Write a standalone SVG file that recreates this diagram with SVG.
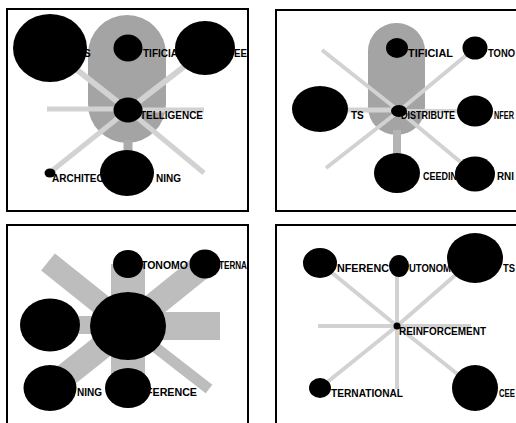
<svg xmlns="http://www.w3.org/2000/svg" width="516" height="423" viewBox="0 0 516 423">
<style>
.n{fill:#000}
.t{font-family:"Liberation Sans",Arial,sans-serif;font-weight:bold;font-size:10px;fill:#000}
.frame{fill:none;stroke:#000;stroke-width:2}
.thin{stroke:#d2d2d2;fill:none}
.band{stroke:#bdbdbd;fill:none}
.pill{fill:#a4a4a4}
</style>
<defs>
<clipPath id="c1"><rect x="8" y="10" width="239" height="200"/></clipPath>
<clipPath id="c2"><rect x="277" y="11" width="239" height="199"/></clipPath>
<clipPath id="c3"><rect x="8" y="226" width="239" height="197"/></clipPath>
<clipPath id="c4"><rect x="277" y="226" width="239" height="197"/></clipPath>
</defs>
<rect width="516" height="423" fill="#fff"/>

<g id="connectors">
  <g clip-path="url(#c1)">
    <rect class="pill" x="88" y="15" width="78" height="128" rx="39" ry="39"/>
    <line class="thin" x1="128" y1="110" x2="62" y2="58" stroke-width="6"/>
    <line class="thin" x1="128" y1="110" x2="190" y2="62" stroke-width="6"/>
    <line class="thin" x1="128" y1="109" x2="47" y2="109" stroke-width="5"/>
    <line class="thin" x1="128" y1="110" x2="204" y2="110" stroke-width="5"/>
    <line class="thin" x1="128" y1="110" x2="53" y2="170" stroke-width="5"/>
    <line class="thin" x1="128" y1="110" x2="204" y2="173" stroke-width="5"/>
    <line stroke="#ababab" x1="128" y1="140" x2="128" y2="152" stroke-width="9"/>
  </g>
  <g clip-path="url(#c2)">
    <rect class="pill" x="368" y="23" width="57" height="112" rx="28" ry="28" fill="#ababab"/>
    <line class="thin" x1="399" y1="111" x2="322" y2="50" stroke-width="4"/>
    <line class="thin" x1="399" y1="111" x2="475" y2="48" stroke-width="4"/>
    <line class="thin" x1="399" y1="110" x2="320" y2="110" stroke-width="5"/>
    <line class="thin" x1="399" y1="111" x2="475" y2="111" stroke-width="4"/>
    <line class="thin" x1="399" y1="111" x2="326" y2="168" stroke-width="4"/>
    <line stroke="#b4b4b4" x1="397" y1="130" x2="397" y2="155" stroke-width="8"/>
    <line class="thin" x1="399" y1="111" x2="475" y2="174" stroke-width="4"/>
  </g>
  <g clip-path="url(#c3)">
    <line class="band" x1="128" y1="326" x2="48" y2="262" stroke-width="22" stroke="#c8c8c8"/>
    <line class="band" x1="128" y1="326" x2="128" y2="264" stroke-width="34" stroke="#acacac"/>
    <line class="band" x1="128" y1="326" x2="205" y2="264" stroke-width="25"/>
    <line class="band" x1="128" y1="326" x2="220" y2="326" stroke-width="28" stroke="#b0b0b0"/>
    <line class="band" x1="128" y1="326" x2="209" y2="389" stroke-width="11" stroke="#cccccc"/>
    <line class="band" x1="128" y1="326" x2="128" y2="388" stroke-width="34"/>
    <line class="band" x1="128" y1="326" x2="50" y2="388" stroke-width="25"/>
    <line class="band" x1="128" y1="325" x2="50" y2="325" stroke-width="18" stroke="#b0b0b0"/>
  </g>
  <g clip-path="url(#c4)">
    <line class="thin" x1="397" y1="326" x2="320" y2="263" stroke-width="4"/>
    <line class="thin" x1="397" y1="266" x2="397" y2="389" stroke-width="4"/>
    <line class="thin" x1="397" y1="326" x2="475" y2="258" stroke-width="4"/>
    <line class="thin" x1="318" y1="326" x2="471" y2="326" stroke-width="4"/>
    <line class="thin" x1="397" y1="326" x2="320" y2="388" stroke-width="4"/>
    <line class="thin" x1="397" y1="326" x2="475" y2="388" stroke-width="4"/>
  </g>
</g>

<g clip-path="url(#c1)">
  <g id="p1-agents"><ellipse class="n" cx="50" cy="48" rx="37" ry="34"/><text class="t" x="84" y="57">S</text></g>
  <g id="p1-artificial"><ellipse class="n" cx="128" cy="48" rx="14.5" ry="13.5"/><text class="t" x="143" y="57">TIFICIA</text></g>
  <g id="p1-proceedings"><ellipse class="n" cx="205" cy="48" rx="30" ry="27"/><text class="t" x="234" y="57" textLength="13" lengthAdjust="spacingAndGlyphs">EE</text></g>
  <g id="p1-intelligence"><ellipse class="n" cx="128" cy="110" rx="14.5" ry="12.5"/><text class="t" x="140" y="119" textLength="63" lengthAdjust="spacingAndGlyphs">TELLIGENCE</text></g>
  <g id="p1-architecture"><ellipse class="n" cx="50" cy="173" rx="5.5" ry="4.5"/><text class="t" x="52" y="182">ARCHITEC</text></g>
  <g id="p1-learning"><ellipse class="n" cx="127" cy="173" rx="27" ry="23"/><text class="t" x="156" y="182">NING</text></g>
</g>

<g clip-path="url(#c2)">
  <g id="p2-artificial"><ellipse class="n" cx="397" cy="48" rx="11" ry="10"/><text class="t" x="408" y="57" textLength="45" lengthAdjust="spacingAndGlyphs">TIFICIAL</text></g>
  <g id="p2-autonomous"><ellipse class="n" cx="475" cy="48" rx="12.5" ry="11.5"/><text class="t" x="488" y="57" textLength="27" lengthAdjust="spacingAndGlyphs">TONO</text></g>
  <g id="p2-agents"><ellipse class="n" cx="320" cy="109" rx="28" ry="23"/><text class="t" x="351" y="119">TS</text></g>
  <g id="p2-distributed"><ellipse class="n" cx="399" cy="111" rx="8" ry="6"/><text class="t" x="401" y="119" textLength="54" lengthAdjust="spacingAndGlyphs">DISTRIBUTE</text></g>
  <g id="p2-inference"><ellipse class="n" cx="475" cy="111" rx="18" ry="15.5"/><text class="t" x="494" y="119" textLength="20" lengthAdjust="spacingAndGlyphs">NFER</text></g>
  <g id="p2-proceedings"><ellipse class="n" cx="397" cy="173" rx="23" ry="20"/><text class="t" x="423" y="180" textLength="34" lengthAdjust="spacingAndGlyphs">CEEDIN</text></g>
  <g id="p2-learning"><ellipse class="n" cx="475" cy="174" rx="20" ry="17.5"/><text class="t" x="497" y="180" textLength="17" lengthAdjust="spacingAndGlyphs">RNI</text></g>
</g>

<g clip-path="url(#c3)">
  <g id="p3-autonomous"><ellipse class="n" cx="128" cy="264" rx="15" ry="14"/><text class="t" x="141" y="269" textLength="47" lengthAdjust="spacingAndGlyphs">TONOMO</text></g>
  <g id="p3-international"><ellipse class="n" cx="205" cy="264" rx="15.5" ry="14.5"/><text class="t" x="219" y="269" textLength="28" lengthAdjust="spacingAndGlyphs">TERNA</text></g>
  <g id="p3-left"><ellipse class="n" cx="50" cy="325" rx="30" ry="26.5"/></g>
  <g id="p3-center"><ellipse class="n" cx="128" cy="326" rx="38" ry="34"/></g>
  <g id="p3-learning"><ellipse class="n" cx="50" cy="388" rx="26.5" ry="23"/><text class="t" x="77" y="396">NING</text></g>
  <g id="p3-conference"><ellipse class="n" cx="128" cy="388" rx="23" ry="20"/><text class="t" x="146" y="396" textLength="51" lengthAdjust="spacingAndGlyphs">FERENCE</text></g>
</g>

<g clip-path="url(#c4)">
  <g id="p4-conference"><ellipse class="n" cx="320" cy="263" rx="17" ry="15"/><text class="t" x="337" y="272" textLength="52" lengthAdjust="spacingAndGlyphs">NFERENC</text></g>
  <g id="p4-autonomous"><ellipse class="n" cx="399" cy="266" rx="10" ry="11"/><text class="t" x="409" y="272" textLength="42" lengthAdjust="spacingAndGlyphs">UTONOM</text></g>
  <g id="p4-agents"><ellipse class="n" cx="475" cy="258" rx="28" ry="25"/><text class="t" x="503" y="272" textLength="12" lengthAdjust="spacingAndGlyphs">TS</text></g>
  <g id="p4-reinforcement"><ellipse class="n" cx="397" cy="326" rx="3.5" ry="3.5"/><text class="t" x="399" y="335" textLength="87" lengthAdjust="spacingAndGlyphs">REINFORCEMENT</text></g>
  <g id="p4-international"><ellipse class="n" cx="320" cy="388" rx="11" ry="10"/><text class="t" x="331" y="397" textLength="72" lengthAdjust="spacingAndGlyphs">TERNATIONAL</text></g>
  <g id="p4-proceedings"><ellipse class="n" cx="475" cy="388" rx="23" ry="23"/><text class="t" x="499" y="397" textLength="16" lengthAdjust="spacingAndGlyphs">CEE</text></g>
</g>

<g id="frames">
  <rect class="frame" x="7" y="9" width="241" height="202"/>
  <rect class="frame" x="276" y="10" width="250" height="201"/>
  <rect class="frame" x="7" y="225" width="241" height="210"/>
  <rect class="frame" x="276" y="225" width="250" height="210"/>
</g>
</svg>
